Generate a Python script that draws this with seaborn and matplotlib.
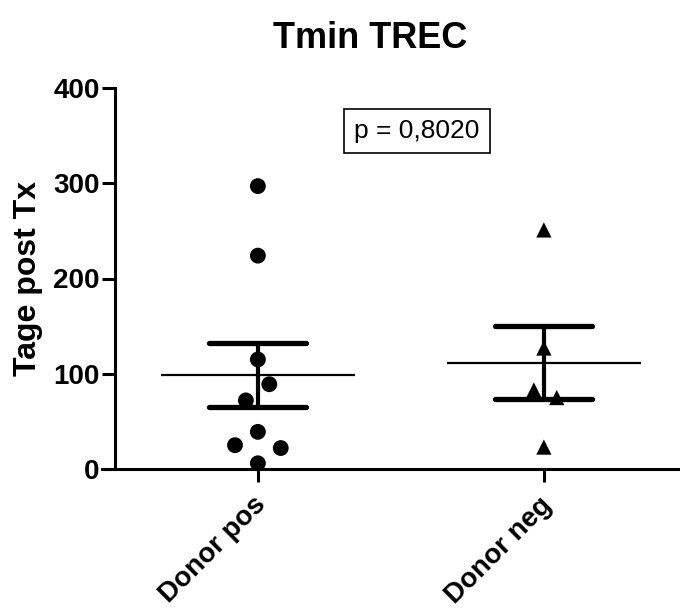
import numpy as np
import pandas as pd
import matplotlib
matplotlib.use("Agg")
import matplotlib.pyplot as plt
import matplotlib.transforms as mtransforms
import seaborn as sns

# ---- data ----
categories = ["Donor pos", "Donor neg"]
donor_pos = [297, 224, 115, 89, 72, 39, 25, 22, 6]
donor_neg = [251, 127, 83, 75, 23]
yticks = [0, 100, 200, 300, 400]
title = "Tmin TREC"
ylabel = "Tage post Tx"
p_text = "p = 0,8020"

# ---- layout (horizontal scatter offsets, not data) ----
pos_offsets = [0, 0, 0, 0.04, -0.042, 0, -0.08, 0.08, 0]
neg_offsets = [0, 0, -0.035, 0.045, 0]

sns.set_theme(style="ticks")
plt.rcParams["font.family"] = ["Liberation Sans", "DejaVu Sans"]
plt.rcParams["text.color"] = "black"
plt.rcParams["axes.labelcolor"] = "black"
plt.rcParams["xtick.color"] = "black"
plt.rcParams["ytick.color"] = "black"

groups = [donor_pos, donor_neg]
offsets = [pos_offsets, neg_offsets]
rows = []
for i, (cat, vals, offs) in enumerate(zip(categories, groups, offsets)):
    for v, o in zip(vals, offs):
        rows.append({"group": cat, "value": v, "x": i + o})
df = pd.DataFrame(rows)

fig = plt.figure(figsize=(6.8, 6.1), dpi=100)
ax = fig.add_axes([102 / 680, (610 - 469) / 610, (680 - 102) / 680, (469 - 88) / 610])

markers = ["o", "^"]
sizes = [130, 120]
for i, cat in enumerate(categories):
    sub = df[df["group"] == cat]
    sns.scatterplot(data=sub, x="x", y="value", marker=markers[i], s=sizes[i],
                    color="black", edgecolor="none", linewidth=0, ax=ax,
                    zorder=4, clip_on=False, legend=False)

for i, vals in enumerate(groups):
    arr = np.asarray(vals, dtype=float)
    m = arr.mean()
    sem = arr.std(ddof=1) / np.sqrt(len(arr))
    ax.hlines(m, i - 0.34, i + 0.34, colors="black", lw=1.6, zorder=3)
    ax.hlines([m - sem, m + sem], i - 0.17, i + 0.17, colors="black", lw=3.8,
              capstyle="round", zorder=3)
    ax.vlines(i, m - sem, m + sem, colors="black", lw=3, zorder=3)

ax.set_xlim(-0.545, 1.476)
ax.set_ylim(0, 400)
ax.set_yticks(yticks)
ax.set_yticklabels([str(t) for t in yticks])
ax.set_xticks(range(len(categories)))
ax.set_xticklabels(categories, rotation=45, ha="right", va="top",
                   rotation_mode="anchor")
ax.set_xlabel("")
ax.set_ylabel("")

for s in ["top", "right"]:
    ax.spines[s].set_visible(False)
ax.spines["left"].set_position(("data", -0.5))
for s in ["left", "bottom"]:
    ax.spines[s].set_linewidth(2.2)
    ax.spines[s].set_color("black")
ax.tick_params(axis="both", direction="out", length=9.5, width=2.2,
               colors="black", labelcolor="black")
ax.tick_params(axis="y", pad=1.5, labelsize=20)
ax.tick_params(axis="x", pad=7, labelsize=20)
shift = mtransforms.ScaledTranslation(-5 / 100, 0, fig.dpi_scale_trans)
for lab in ax.get_xticklabels():
    lab.set_transform(lab.get_transform() + shift)
for lab in ax.get_yticklabels() + ax.get_xticklabels():
    lab.set_fontweight("bold")
    lab.set_color("black")

fig.text(370 / 680, 1 - 38 / 610, title, ha="center", va="center",
         fontsize=26, fontweight="bold", color="black")
fig.text(28 / 680, 1 - 279 / 610, ylabel, ha="center", va="center",
         rotation=90, fontsize=23, fontweight="bold", color="black")
fig.text(417 / 680, 1 - 131 / 610, p_text, ha="center", va="center", fontsize=19,
         color="black",
         bbox=dict(boxstyle="square,pad=0.38", fc="white", ec="black", lw=1.2))

fig.savefig("out.png", dpi=100)
